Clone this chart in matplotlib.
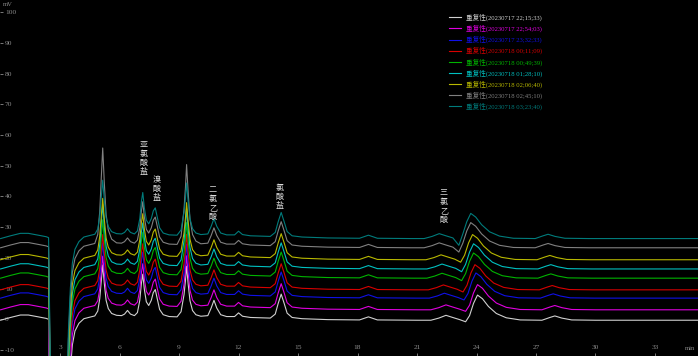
import matplotlib
matplotlib.use('Agg')
import matplotlib.pyplot as plt
import numpy as np

plt.rcParams['font.family'] = ['Liberation Serif', 'Noto Sans CJK SC']
plt.rcParams['axes.unicode_minus'] = False

# injection times of the 9 repeat runs (bottom trace first)
run_times = ['20230717 22;15;33', '20230717 22;54;03', '20230717 23;32;33',
             '20230718 00;11;09', '20230718 00;49;39', '20230718 01;28;10',
             '20230718 02;06;40', '20230718 02;45;10', '20230718 03;23;40']
run_colors = ['#d0d0d0', '#e000e0', '#1010e8', '#d80000', '#00b400',
              '#00c0c0', '#b8b800', '#808080', '#007c7c']
# baseline of each run (mV, read at ~21 min)
run_offset_mv = [-0.3, 3.1, 6.9, 9.6, 13.4, 16.4, 19.4, 23.3, 26.3]
# height of the 5.15 min and 9.38 min peaks per run (mV above baseline)
p1_top_mv = [16.5, 16.0, 16.5, 16.5, 17.5, 19.5, 18.5, 31.0, 17.5]
p4_top_mv = [16.5, 16.5, 16.5, 17.0, 17.0, 18.5, 17.5, 26.0, 17.0]
# small negative dip just before the 24 min peak (mV)
pre_dip_mv = [-0.5, -0.5, -0.6, -0.7, -0.8, -0.9, -0.8, -1.4, -2.2]
# retention drift of the late peaks (min)
late_shift_min = [0.0, 0.0, -0.08, -0.13, -0.2, -0.2, -0.25, -0.34, -0.34]

# chromatogram of the bottom run, read point by point (min, mV above baseline)
t_knots = [0.0, 0.5, 1.0, 1.4, 1.9, 2.3, 2.42, 2.55, 3.3, 3.42, 3.52, 3.62,
           3.75, 3.95, 4.2, 4.5, 4.75, 4.9, 5.0, 5.08, 5.15, 5.23, 5.32, 5.43,
           5.6, 5.85, 6.1, 6.25, 6.4, 6.55, 6.75, 6.9, 7.02, 7.1, 7.17, 7.25,
           7.35, 7.47, 7.6, 7.7, 7.8, 7.9, 8.02, 8.2, 8.5, 8.9, 9.1, 9.25, 9.32,
           9.38, 9.46, 9.55, 9.68, 9.85, 10.1, 10.45, 10.62, 10.76, 10.9, 11.1,
           11.4, 11.8, 12.0, 12.2, 12.6, 13.6, 13.85, 14.0, 14.15, 14.3, 14.45,
           14.7, 15.2, 16.5, 18.1, 18.55, 19.0, 21.0, 21.7, 22.1, 22.46, 22.8,
           23.15, 23.45, 23.65, 23.85, 24.05, 24.3, 24.6, 25.0, 25.5, 26.2,
           27.3, 27.7, 27.95, 28.3, 28.8, 30.0, 35.2]
shape_mv = [0.0, 0.9, 1.7, 1.7, 1.1, 0.6, 0.3, -60, -60, -30, -16, -8,
            -3.5, -1.0, 0.5, 1.0, 1.4, 3.0, 7.0, 13.0, 18.0, 12.0, 6.5, 3.8,
            2.2, 1.6, 1.5, 2.0, 3.2, 2.0, 1.5, 2.5, 6.5, 12.0, 15.0, 10.0,
            6.0, 4.8, 6.5, 9.0, 10.0, 7.0, 3.5, 1.8, 1.2, 1.1, 2.8, 8.5, 13.0,
            18.0, 12.0, 6.5, 3.2, 1.8, 1.3, 1.5, 4.0, 6.5, 4.0, 1.8,
            1.2, 1.2, 2.4, 1.3, 0.9, 0.7, 2.0, 5.5, 8.5, 5.5, 2.3,
            0.9, 0.5, 0.2, 0.1, 1.1, 0.1, 0.0, 0.0, 0.7, 1.6, 0.9,
            0.2, -0.5, 1.5, 5.5, 8.2, 7.0, 4.5, 2.2, 0.8, 0.1,
            0.0, 0.9, 1.4, 0.7, 0.1, 0.0, 0.0]

peak_names = ['亚氯酸盐', '溴酸盐', '二氯乙酸', '氯酸盐', '三氯乙酸']
peak_rt = [7.21, 7.86, 10.71, 14.09, 22.36]
label_top = [58.4, 47.0, 43.7, 44.4, 42.8]

yticks = list(range(-10, 101, 10))
xticks = list(range(3, 34, 3))

fig = plt.figure(figsize=(6.98, 3.56), dpi=100, facecolor='black')
ax = fig.add_axes([0, 0, 1, 1], facecolor='black')

t = np.array(t_knots)
base = np.array(shape_mv, dtype=float)
p1 = (t >= 4.8) & (t <= 5.6)
p4 = (t >= 9.05) & (t <= 9.9)
late = (t >= 21) & (t <= 30)
dip = t == 23.45

for i in range(len(run_times)):
    y = base.copy()
    y[p1] = 1.5 + (base[p1] - 1.5) * p1_top_mv[i] / 16.5
    y[p4] = 1.1 + (base[p4] - 1.1) * p4_top_mv[i] / 16.9
    y[dip] = pre_dip_mv[i]
    tt = t + np.where(late, late_shift_min[i], 0.0)
    ax.plot(tt, y + run_offset_mv[i], color=run_colors[i], lw=0.8,
            label='重复性(' + run_times[i] + ')')

for name, rt, top in zip(peak_names, peak_rt, label_top):
    ax.text(rt, top, '\n'.join(name), ha='center', va='top', fontsize=5.8,
            color='#dcdcdc', linespacing=1.0,
            family=['Noto Sans CJK SC', 'DejaVu Sans'])

ax.set_xlim(-0.03, 35.17)
ax.set_ylim(-11.95, 104.0)
ax.set_xticks(xticks)
ax.set_yticks(yticks)
ax.tick_params(axis='both', direction='in', colors='#8c8c8c', labelsize=5.4,
               length=2.5, width=0.6)
ax.tick_params(axis='y', pad=-3.6)
ax.tick_params(axis='x', pad=-8)
for lbl in ax.get_yticklabels():
    lbl.set_horizontalalignment('left')
for sp in ax.spines.values():
    sp.set_visible(False)

ax.text(0.004, 0.995, 'mV', transform=ax.transAxes, ha='left', va='top',
        fontsize=4.8, color='#8c8c8c')
ax.text(0.996, 0.02, 'min', transform=ax.transAxes, ha='right', va='center',
        fontsize=4.8, color='#8c8c8c')

leg = ax.legend(loc='upper left', bbox_to_anchor=(449 / 698, 1 - 13.5 / 356),
                frameon=False, fontsize=4.8, handlelength=1.8,
                handletextpad=0.75, labelspacing=0.56, borderpad=0,
                borderaxespad=0, labelcolor='linecolor')

fig.savefig('out.png', dpi=100, facecolor='black')
